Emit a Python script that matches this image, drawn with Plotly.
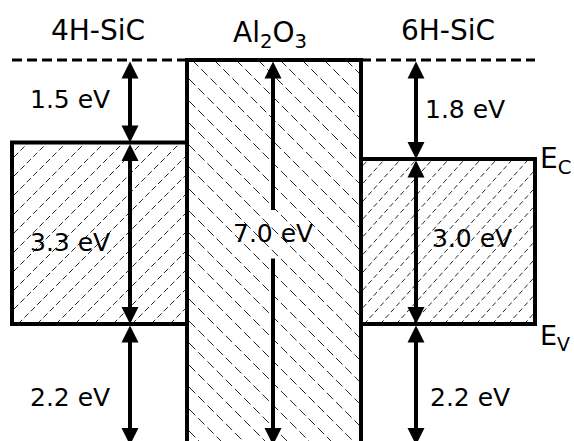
import math
import plotly.graph_objects as go

# ---- band alignment data (energies in eV, measured downward from the Al2O3 conduction band) ----
materials = ["4H-SiC", "Al<sub>2</sub>O<sub>3</sub>", "6H-SiC"]
cb_offset = [1.5, 0.0, 1.8]      # conduction-band edge below the Al2O3 CB
band_gap = [3.3, 7.0, 3.0]       # band gaps
oxide_gap = band_gap[1]

# ---- layout constants (pixel-style x coordinates, y in eV) ----
W, H = 574, 441
Y0_PX, PX_PER_EV = 60, 55.0
y_top = -Y0_PX / PX_PER_EV
y_bot = (H - Y0_PX) / PX_PER_EV

block_x = [(12, 187), (187, 361), (361, 535)]
arrow_x = [130, 273, 416]
label_x = [(70, 70, 70), (273,), (465, 472, 470)]
title_pos = [(98, -0.54), (270, -0.46), (448, -0.54)]


def px(y_ev):
    return Y0_PX + y_ev * PX_PER_EV


def ev(y_px):
    return (y_px - Y0_PX) / PX_PER_EV


def hatch(x0, x1, e0, e1, angle_deg, hspace, rising):
    """Clip a family of parallel diagonal lines to a rectangle; returns x, y (eV) lists."""
    p0, p1 = px(e0), px(e1)
    t = math.tan(math.radians(angle_deg))
    xs, ys = [], []
    step = hspace * t
    if rising:           # "/" : py = c - x*t
        c = p0 + x0 * t
        c_end = p1 + x1 * t
    else:                # "\" : py = c + x*t
        c = p0 - x1 * t
        c_end = p1 - x0 * t
    c = c - (c % step)
    while c <= c_end + step:
        if rising:
            xa, xb = (c - p1) / t, (c - p0) / t
        else:
            xa, xb = (p0 - c) / t, (p1 - c) / t
        xa, xb = max(xa, x0), min(xb, x1)
        if xb > xa + 0.5:
            for xx in (xa, xb):
                py = c - xx * t if rising else c + xx * t
                xs.append(xx)
                ys.append(ev(py))
            xs.append(None)
            ys.append(None)
        c += step
    return xs, ys


fig = go.Figure()

# hatching inside the three blocks
hatch_style = [
    dict(angle=45, hspace=19, rising=True, dash="6px,3px"),
    dict(angle=45, hspace=22, rising=False, dash="9px,4px"),
    dict(angle=48, hspace=16, rising=True, dash="5px,3px"),
]
for i, hs in enumerate(hatch_style):
    x0, x1 = block_x[i]
    e0 = cb_offset[i]
    e1 = cb_offset[i] + band_gap[i]
    if i == 1:
        e1 = max(e1, y_bot + 0.2)
    hx, hy = hatch(x0 + 2, x1 - 2, e0, e1, hs["angle"], hs["hspace"], hs["rising"])
    fig.add_trace(go.Scatter(
        x=hx, y=hy, mode="lines", hoverinfo="skip", showlegend=False,
        line=dict(color="#2a2a2a", width=1, dash=hs["dash"]),
    ))

# block outlines
for i in range(3):
    x0, x1 = block_x[i]
    fig.add_shape(type="rect", xref="x", yref="y",
                  x0=x0, x1=x1, y0=cb_offset[i], y1=cb_offset[i] + band_gap[i],
                  line=dict(color="black", width=4), fillcolor="rgba(0,0,0,0)")

# reference level (Al2O3 conduction band) as dashed line over the semiconductors
for i in (0, 2):
    x0, x1 = block_x[i]
    fig.add_shape(type="line", xref="x", yref="y", x0=x0, x1=x1, y0=0, y1=0,
                  line=dict(color="black", width=3, dash="10px,5px"))


def arrow(x, y_from, y_to, side="end+start"):
    fig.add_annotation(
        x=x, y=y_to, ax=x, ay=y_from, xref="x", yref="y", axref="x", ayref="y",
        text="", showarrow=True, arrowside=side,
        arrowhead=2, startarrowhead=2, arrowsize=0.85, startarrowsize=0.85,
        arrowwidth=4, arrowcolor="black", standoff=0, startstandoff=0,
    )


def label(x, y, text, size=25):
    fig.add_annotation(x=x, y=y, xref="x", yref="y", text=text, showarrow=False,
                       font=dict(family="DejaVu Sans", size=size, color="black"))


# semiconductor arrows: CB offset, band gap, VB offset
label_y = [(0.72, 3.32, 6.13), None, (0.9, 3.25, 6.13)]
for i in (0, 2):
    cb = cb_offset[i]
    vb = cb + band_gap[i]
    segs = [(0.0, cb), (cb, vb), (vb, oxide_gap)]
    for k, (a, b) in enumerate(segs):
        arrow(arrow_x[i], a, b)
        label(label_x[i][k], label_y[i][k], f"{b - a:.1f} eV")

# oxide band gap arrow, interrupted by its label
gap_lo, gap_hi = ev(210), ev(257)
arrow(arrow_x[1], 0.0, gap_lo, side="start")
arrow(arrow_x[1], gap_hi, oxide_gap, side="end")
label(label_x[1][0], ev(233), f"{oxide_gap:.1f} eV")

# material names
for name, (tx, ty) in zip(materials, title_pos):
    label(tx, ty, name, size=28)

# band edge labels
fig.add_annotation(x=538, y=ev(160), xref="x", yref="y", text="E<sub>C</sub>",
                   showarrow=False, xanchor="left",
                   font=dict(family="DejaVu Sans", size=28, color="black"))
fig.add_annotation(x=538, y=ev(337), xref="x", yref="y", text="E<sub>V</sub>",
                   showarrow=False, xanchor="left",
                   font=dict(family="DejaVu Sans", size=27, color="black"))

fig.update_layout(
    width=W, height=H, margin=dict(l=0, r=0, t=0, b=0),
    paper_bgcolor="white", plot_bgcolor="white", showlegend=False,
    xaxis=dict(range=[0, W], visible=False, fixedrange=True),
    yaxis=dict(range=[y_bot, y_top], visible=False, fixedrange=True),
)

fig.write_html("out.html")
